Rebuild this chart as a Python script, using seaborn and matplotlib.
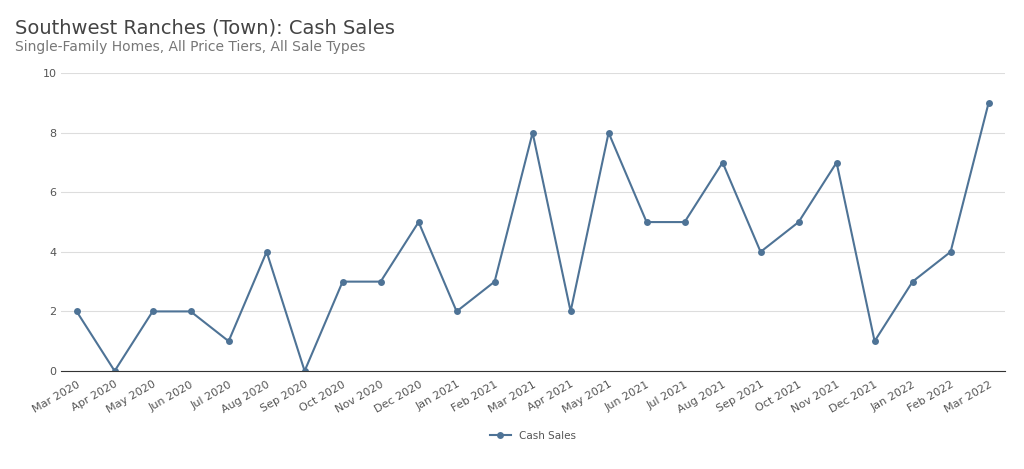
import pandas as pd
import seaborn as sns
import matplotlib.pyplot as plt

# Dados
meses = ["Mar 2020", "Apr 2020", "May 2020", "Jun 2020", "Jul 2020", "Aug 2020",
         "Sep 2020", "Oct 2020", "Nov 2020", "Dec 2020", "Jan 2021", "Feb 2021",
         "Mar 2021", "Apr 2021", "May 2021", "Jun 2021", "Jul 2021", "Aug 2021",
         "Sep 2021", "Oct 2021", "Nov 2021", "Dec 2021", "Jan 2022", "Feb 2022",
         "Mar 2022"]
vendas_dinheiro = [2, 0, 2, 2, 1, 4, 0, 3, 3, 5, 2, 3, 8, 2, 8, 5, 5, 7, 4, 5, 7, 1, 3, 4, 9]

df = pd.DataFrame({"mes": meses, "vendas": vendas_dinheiro})
df["pos"] = range(len(df))

cor = "#4e7396"
fig = plt.figure(figsize=(10.24, 4.69), dpi=100)
ax = fig.add_axes([0.06, 0.209, 0.921, 0.635])

sns.lineplot(data=df, x="pos", y="vendas", ax=ax, color=cor, marker="o",
             markersize=5, markeredgewidth=0, linewidth=1.5, label="Cash Sales")

ax.set_xlim(-0.4, len(df) - 1 + 0.42)
ax.set_ylim(0, 10)
ax.set_yticks(range(0, 11, 2))
ax.set_xticks(df["pos"])
ax.set_xticklabels(df["mes"], rotation=30, ha="right", rotation_mode="anchor")
ax.tick_params(axis="both", labelsize=8, colors="#555555", length=0)
ax.tick_params(axis="x", pad=6)
ax.set_xlabel("")
ax.set_ylabel("")
ax.grid(axis="y", color="#dddddd", linewidth=0.8)
for s in ["top", "right", "left"]:
    ax.spines[s].set_visible(False)
ax.spines["bottom"].set_color("#333333")
ax.set_axisbelow(True)

ax.legend(loc="upper center", bbox_to_anchor=(0.5, -0.17), frameon=False,
          fontsize=7.5, labelcolor="#555555")

fig.text(0.015, 0.94, "Southwest Ranches (Town): Cash Sales", fontsize=14,
         color="#444444", va="center")
fig.text(0.015, 0.9, "Single-Family Homes, All Price Tiers, All Sale Types",
         fontsize=10, color="#777777", va="center")

fig.savefig("out.png", dpi=100)
